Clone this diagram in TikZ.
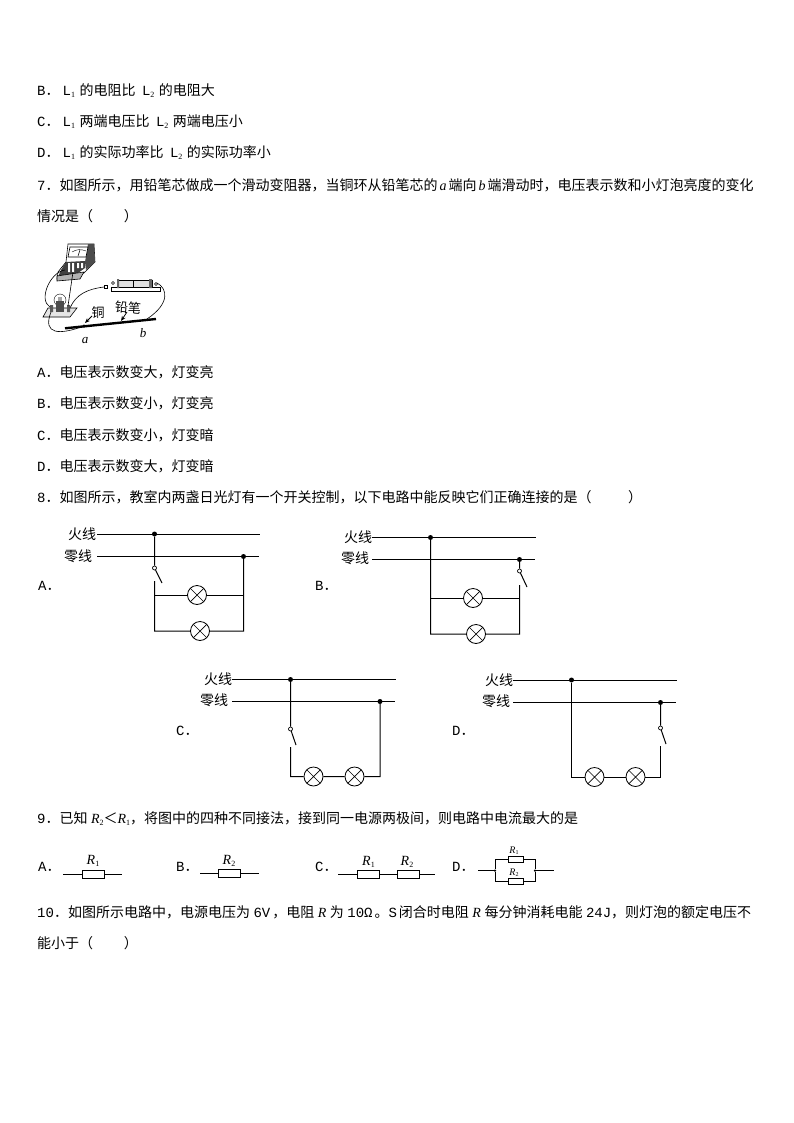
\documentclass[tikz,border=0pt]{standalone}
\usepackage{fontspec}
\setmainfont{Noto Sans CJK SC}
\newfontfamily\latm{Liberation Mono}
\newfontfamily\latr{Liberation Serif}
\usetikzlibrary{arrows.meta}
\newcommand{\mm}[1]{{\latm #1}}
\newcommand{\ii}[1]{{\latr\itshape #1}}
\newcommand{\lsub}[1]{\raisebox{-2pt}{\fontsize{8}{8}\latr\upshape\selectfont #1}}
\newcommand{\gp}{\hspace{2pt}}
\newcommand{\gq}{\hspace{3.5pt}}
\newcommand{\gr}{\hspace{6.5pt}}
\tikzset{
  x=1pt,y=-1pt,
  txt/.style={anchor=west,inner sep=0pt,font=\fontsize{14}{14}\selectfont},
  wire/.style={line width=1pt,black},
  wl/.style={font=\fontsize{14}{14}\selectfont,inner sep=0pt},
  lamp/.style={circle,draw,line width=0.8pt,minimum size=19pt,inner sep=0pt,fill=white,
    path picture={\draw[line width=0.7pt] (path picture bounding box.north west)--(path picture bounding box.south east)
      (path picture bounding box.north east)--(path picture bounding box.south west);}},
  jn/.style={circle,fill=black,inner sep=0pt,minimum size=5pt},
  sw/.style={circle,draw,fill=white,line width=0.7pt,inner sep=0pt,minimum size=4pt},
  res/.style={rectangle,draw,fill=white,line width=0.8pt,inner sep=0pt,minimum width=22pt,minimum height=8pt},
  ressm/.style={res,minimum width=15pt,minimum height=6pt},
  rl/.style={inner sep=0pt,font=\fontsize{14}{14}\latr\itshape\selectfont},
  rlsm/.style={inner sep=0pt,font=\fontsize{10}{10}\latr\itshape\selectfont},
  pic/.style={line width=0.6pt,black}
}
\begin{document}
\begin{tikzpicture}
\useasboundingbox (0,0) rectangle (794,1123);
\fill[white] (0,0) rectangle (794,1123);
% --- text lines
\node[txt] (tb) at (37,91) {\mm{B}．\hspace{3pt}\mm{L}\lsub{1}\hspace{4.5pt}的电阻比\gr\mm{L}\lsub{2}\hspace{4.5pt}的电阻大};
\node[txt] (tc) at (37,122) {\mm{C}．\hspace{3pt}\mm{L}\lsub{1}\hspace{4.5pt}两端电压比\gr\mm{L}\lsub{2}\hspace{4.5pt}两端电压小};
\node[txt] (td) at (37,153) {\mm{D}．\hspace{3pt}\mm{L}\lsub{1}\hspace{4.5pt}的实际功率比\gr\mm{L}\lsub{2}\hspace{4.5pt}的实际功率小};
\node[txt] (q7) at (37,185) {\mm{7}．如图所示，用铅笔芯做成一个滑动变阻器，当铜环从铅笔芯的\gp\ii{a}\gp 端向\gp\ii{b}\gp 端滑动时，电压表示数和小灯泡亮度的变化};
\node[txt] (q7b) at (37,216) {情况是（\hspace{2.2em}）};
\node[txt] (a7a) at (37,372) {\mm{A}．电压表示数变大，灯变亮};
\node[txt] (a7b) at (37,403) {\mm{B}．电压表示数变小，灯变亮};
\node[txt] (a7c) at (37,435) {\mm{C}．电压表示数变小，灯变暗};
\node[txt] (a7d) at (37,466) {\mm{D}．电压表示数变大，灯变暗};
\node[txt] (q8) at (37,497) {\mm{8}．如图所示，教室内两盏日光灯有一个开关控制，以下电路中能反映它们正确连接的是（\hspace{2.6em}）};
\node[txt] (q9) at (37,819) {\mm{9}．已知\gq\ii{R}\lsub{2}＜\ii{R}\lsub{1}，将图中的四种不同接法，接到同一电源两极间，则电路中电流最大的是};
\node[txt] (q10) at (37,912) {\mm{10}．如图所示电路中，电源电压为\gq\mm{6V}\gp，电阻\gq\ii{R}\gq 为\gq\mm{10Ω}\gp。\mm{S}\gp 闭合时电阻\gq\ii{R}\gq 每分钟消耗电能\gq\mm{24J}，则灯泡的额定电压不};
\node[txt] (q10b) at (37,943) {能小于（\hspace{2.2em}）};

% --- pictorial figure of question 7
\begin{scope}[pic]
% voltmeter
\draw[fill=white] (68,244) -- (94,244) -- (95,262) -- (84,273) -- (57,279) -- (58,272) -- (66,262) -- cycle;
\fill[black!70] (88,244) -- (94,244) -- (95,262) -- (86,270) -- (85,262) -- cycle;
\draw[fill=white] (70,247) -- (88,247) -- (86,257) -- (68,257) -- cycle;
\draw[line width=0.4pt] (72,252) .. controls (77,249) and (81,249) .. (86,251);
\draw[line width=0.5pt] (78,256) -- (80,250);
\fill[black!75] (66,262) -- (85,261) -- (85,268) -- (78,273) -- (58,277) -- (61,270) -- cycle;
\fill[white] (68,263) rectangle (70,272) (72,263) rectangle (74,272) (77,263) rectangle (79,268) (81,263) rectangle (83,268);
\draw[fill=black!30] (57,276) -- (84,272) -- (80,279) -- (57,281) -- cycle;
% battery holder
\draw[fill=white] (111,287) rectangle (160,291);
\draw[fill=black!12] (118,280) rectangle (133,287);
\draw[fill=black!12] (133,280) rectangle (152,287);
\fill[black!60] (117,279) rectangle (119,288) (149,279) rectangle (152,288);
\draw[fill=white] (113,283) circle (1.5) (156,284) circle (1.5);
\draw[fill=white] (104,285) rectangle (107,288);
% lamp stand
\draw[fill=black!10] (48,308) -- (77,308) -- (70,317) -- (43,317) -- cycle;
\draw[line width=0.4pt] (60,300) circle (6);
\fill[black!70] (56,301) rectangle (64,312);
\fill[black!35] (58,297) rectangle (62,301);
\fill[black!65] (50,305) rectangle (53,312) (67,305) rectangle (70,312);
% wires
\draw (65,270) .. controls (50,272) and (38,300) .. (50,307);
\draw (73,272) -- (68,306);
\draw (104,287) .. controls (88,289) and (76,294) .. (70,308);
\draw (157,283) .. controls (167,288) and (171,303) .. (147,319);
\draw (51,312) .. controls (42,335) and (60,335) .. (84,326);
% pencil
\draw[line width=2.4pt] (65,328.3) -- (156,319);
\fill (84,326) circle (1.6);
\draw[line width=0.8pt,-{Stealth[length=5pt,width=4pt]}] (92,316) -- (85,323);
\draw[line width=0.8pt,-{Stealth[length=5pt,width=4pt]}] (127,312) -- (121,321);
\end{scope}
\node[inner sep=0pt,font=\fontsize{13}{13}\selectfont] (cu) at (98,313) {铜};
\node[inner sep=0pt,font=\fontsize{13}{13}\selectfont,rotate=-5] (pb) at (128,308) {铅笔};
\node[inner sep=0pt,font=\fontsize{13}{13}\latr\itshape\selectfont] (la) at (85,341) {a};
\node[inner sep=0pt,font=\fontsize{13}{13}\latr\itshape\selectfont] (lb) at (143,333) {b};

% --- circuit A
\node[wl] (ahl) at (82,534) {火线};
\node[wl] (anl) at (78,556) {零线};
\node[txt] (la1) at (38,586) {\mm{A}．};
\coordinate (ah0) at (97,534); \coordinate (ah1) at (260,534);
\coordinate (an0) at (97,556.5); \coordinate (an1) at (259,556.5);
\node[jn] (aj1) at (154.5,534) {}; \node[jn] (aj2) at (243.5,556.5) {};
\node[sw] (as) at (154.5,568) {};
\coordinate (asb) at (162,583); \coordinate (asc) at (154.5,581);
\coordinate (atl) at (154.5,595); \coordinate (atr) at (243.5,595);
\coordinate (abl) at (154.5,631); \coordinate (abr) at (243.5,631);
\node[lamp] (al1) at (197,595) {}; \node[lamp] (al2) at (200,631) {};
\draw[wire] (ah0) -- (ah1) (an0) -- (an1);
\draw[wire] (aj1) -- (as) -- (asb) (asc) -- (abl) -- (al2) -- (abr) -- (aj2);
\draw[wire] (atl) -- (al1) -- (atr);

% --- circuit B
\node[wl] (bhl) at (358,537) {火线};
\node[wl] (bnl) at (355,558) {零线};
\node[txt] (lb1) at (315,586) {\mm{B}．};
\coordinate (bh0) at (372,537.5); \coordinate (bh1) at (536,537.5);
\coordinate (bn0) at (372,559.5); \coordinate (bn1) at (535,559.5);
\node[jn] (bj1) at (430.5,537.5) {}; \node[jn] (bj2) at (519.5,559.5) {};
\node[sw] (bs) at (519.5,571) {};
\coordinate (bsb) at (527,587); \coordinate (bsc) at (519.5,585);
\coordinate (btl) at (430.5,598); \coordinate (btr) at (519.5,598);
\coordinate (bbl) at (430.5,634); \coordinate (bbr) at (519.5,634);
\node[lamp] (bl1) at (473,598) {}; \node[lamp] (bl2) at (476,634) {};
\draw[wire] (bh0) -- (bh1) (bn0) -- (bn1);
\draw[wire] (bj2) -- (bs) -- (bsb) (bsc) -- (bbr) -- (bl2) -- (bbl) -- (bj1);
\draw[wire] (btl) -- (bl1) -- (btr);

% --- circuit C
\node[wl] (chl) at (218,679) {火线};
\node[wl] (cnl) at (214,700) {零线};
\node[txt] (lc1) at (176,731) {\mm{C}．};
\coordinate (ch0) at (232,679.5); \coordinate (ch1) at (396,679.5);
\coordinate (cn0) at (232,701.5); \coordinate (cn1) at (395,701.5);
\node[jn] (cj1) at (290.5,679.5) {}; \node[jn] (cj2) at (380,701.5) {};
\node[sw] (cs) at (290.5,729) {};
\coordinate (csb) at (296,745); \coordinate (csc) at (290.5,747);
\coordinate (cbl) at (290.5,776.5); \coordinate (cbr) at (380,776.5);
\node[lamp] (cl1) at (313.5,776.5) {}; \node[lamp] (cl2) at (354.5,776.5) {};
\draw[wire] (ch0) -- (ch1) (cn0) -- (cn1);
\draw[wire] (cj1) -- (cs) -- (csb) (csc) -- (cbl) -- (cl1) -- (cl2) -- (cbr) -- (cj2);

% --- circuit D
\node[wl] (dhl) at (499,680) {火线};
\node[wl] (dnl) at (496,701) {零线};
\node[txt] (ld1) at (452,731) {\mm{D}．};
\coordinate (dh0) at (513,680); \coordinate (dh1) at (677,680);
\coordinate (dn0) at (513,702.5); \coordinate (dn1) at (676,702.5);
\node[jn] (dj1) at (571.5,680) {}; \node[jn] (dj2) at (660.5,702.5) {};
\node[sw] (ds) at (660.5,728) {};
\coordinate (dsb) at (666,744); \coordinate (dsc) at (660.5,746);
\coordinate (dbl) at (571.5,777); \coordinate (dbr) at (660.5,777);
\node[lamp] (dl1) at (594.5,777) {}; \node[lamp] (dl2) at (635.5,777) {};
\draw[wire] (dh0) -- (dh1) (dn0) -- (dn1);
\draw[wire] (dj1) -- (dbl) -- (dl1) -- (dl2) -- (dbr) -- (dsc);
\draw[wire] (dj2) -- (ds) -- (dsb);

% --- resistors of question 9
\node[txt] (ra) at (38,867) {\mm{A}．};
\coordinate (ra0) at (63,874); \coordinate (ra1) at (122,874);
\node[res] (r1a) at (93,874) {};
\node[rl] (r1at) at (93,861) {R\lsub{1}};
\draw[wire] (ra0) -- (r1a) -- (ra1);

\node[txt] (rb) at (176,867) {\mm{B}．};
\coordinate (rb0) at (200,873.5); \coordinate (rb1) at (259,873.5);
\node[res] (r2b) at (229,873.5) {};
\node[rl] (r2bt) at (229,861) {R\lsub{2}};
\draw[wire] (rb0) -- (r2b) -- (rb1);

\node[txt] (rc) at (315,867) {\mm{C}．};
\coordinate (rc0) at (338,874); \coordinate (rc1) at (435,874);
\node[res] (r1c) at (368.5,874) {}; \node[res] (r2c) at (408,874) {};
\node[rl] (r1ct) at (368.5,862) {R\lsub{1}};
\node[rl] (r2ct) at (407,862) {R\lsub{2}};
\draw[wire] (rc0) -- (r1c) -- (r2c) -- (rc1);

\node[txt] (rd) at (452,867) {\mm{D}．};
\coordinate (rd0) at (478,870.5); \coordinate (rd1) at (554,870.5);
\node[jn,minimum size=2.5pt] (rdl) at (495,870.5) {}; \node[jn,minimum size=2.5pt] (rdr) at (535,870.5) {};
\node[ressm] (r1d) at (515.5,859) {}; \node[ressm] (r2d) at (515.5,881.5) {};
\node[rlsm] (r1dt) at (514,851) {R\raisebox{-1pt}{\fontsize{6}{6}\upshape\selectfont 1}};
\node[rlsm] (r2dt) at (514,873) {R\raisebox{-1pt}{\fontsize{6}{6}\upshape\selectfont 2}};
\draw[wire] (rd0) -- (rdl) (rdr) -- (rd1);
\draw[wire] (rdl) |- (r1d) -| (rdr);
\draw[wire] (rdl) |- (r2d) -| (rdr);
\end{tikzpicture}
\end{document}
